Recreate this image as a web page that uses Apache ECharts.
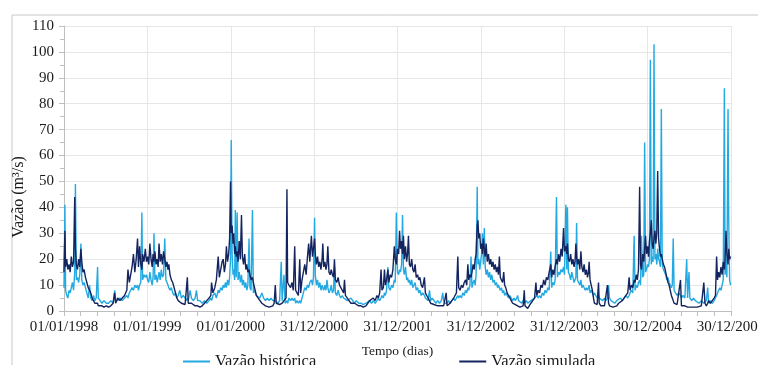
<!DOCTYPE html>
<html>
<head>
<meta charset="utf-8">
<script src="https://cdn.jsdelivr.net/npm/echarts@6/dist/echarts.min.js"></script>
<style>
html,body{margin:0;padding:0;background:#fff;}
#chart{width:758px;height:365px;}
</style>
</head>
<body>
<div id="chart"></div>
<script>
// Day offsets from 01/01/1998
const days = [
0,4,7,12,17,22,27,32,37,42,47,50,54,59,64,69,74,78,83,88,94,100,106,112,117,123,129,135,141,147,150,158,166,175,185,195,205,215,222,226,235,245,255,265,275,280,286,292,298,304,310,316,322,326,331,336,341,344,350,356,
361,366,371,376,381,386,390,394,398,403,408,412,416,421,426,431,436,441,446,451,455,459,464,470,476,482,488,494,500,507,514,522,530,537,540,544,552,558,566,574,580,585,595,605,615,625,635,643,646,652,660,667,675,680,686,692,697,702,707,711,716,721,725,729,732,
736,740,743,747,750,754,758,762,767,772,777,781,786,791,796,800,805,810,814,819,825,829,834,842,850,858,866,874,882,890,898,906,914,920,925,929,936,944,951,955,963,968,972,976,979,985,992,998,1004,1010,1014,1020,1026,1032,1036,1042,1048,1054,1060,1065,1071,1076,1083,1088,1092,1097,
1100,1105,1110,1115,1120,1125,1130,1133,1137,1142,1147,1151,1155,1160,1165,1170,1175,1180,1184,1188,1194,1200,1206,1212,1218,1224,1228,1232,1240,1248,1256,1264,1272,1280,1290,1300,1310,1316,1322,1330,1338,1346,1354,1362,1370,1376,1382,1388,1392,1398,1403,1407,1412,1418,1422,1428,1434,1440,1446,1450,1455,1460,
1465,1469,1473,1478,1482,1486,1490,1495,1500,1504,1508,1512,1517,1522,1527,1532,1537,1542,1548,1553,1558,1564,1570,1578,1582,1588,1594,1600,1605,1612,1620,1628,1636,1644,1652,1658,1662,1668,1673,1677,1684,1690,1698,1706,1712,1718,1724,1728,1734,1740,1746,1752,1758,1763,1768,1772,1777,1782,1786,1791,1796,1800,1804,1809,1812,1816,1820,1824,
1828,1832,1836,1840,1844,1848,1853,1858,1863,1868,1873,1878,1883,1888,1893,1898,1902,1906,1910,1915,1920,1925,1929,1934,1940,1946,1952,1958,1964,1970,1976,1982,1986,1990,1996,2004,2010,2015,2018,2024,2030,2037,2044,2052,2060,2066,2070,2076,2082,2088,2094,2100,2106,2112,2118,2124,2131,2135,2140,2145,2150,2156,2160,2165,2170,2176,2181,2187,2191,2197,2201,2204,2208,
2213,2218,2223,2228,2233,2237,2241,2244,2248,2253,2258,2263,2267,2272,2277,2282,2287,2292,2296,2299,2303,2308,2313,2318,2322,2328,2334,2340,2343,2350,2358,2366,2372,2379,2384,2388,2395,2403,2411,2420,2428,2436,2444,2452,2460,2468,2474,2478,2484,2490,2496,2500,2505,2510,2515,2520,2524,2528,2533,2538,2542,2546,2550,2555,
2559,2563,2567,2571,2575,2579,2583,2587,2591,2595,2599,2603,2607,2611,2615,2619,2624,2629,2634,2639,2644,2649,2654,2659,2663,2667,2671,2677,2684,2691,2699,2703,2710,2718,2726,2730,2736,2740,2748,2756,2764,2772,2780,2790,2801,2806,2812,2818,2822,2830,2838,2846,2852,2857,2861,2866,2871,2876,2881,2886,2891,2894,2898,2902,2907,2910,2914,2918
];

// Vazão histórica (m3/s)
const hist = [
9,41,8,6,5,8,7,9,11,8,15,49,12,13,11,14,26,12,10,11,9,7,5,10,5,4,6,4,5,17,5,4,3,4,3,3,4,3,8,4,4,5,4,5,6,5,7,8,9,8,10,9,10,8,10,11,38,12,14,13,
14,12,11,15,12,10,13,30,12,14,11,13,15,12,16,13,14,28,12,11,10,9,8,9,7,6,7,5,6,8,5,6,5,4,5,4,8,5,4,5,8,4,4,3,4,3,4,5,4,6,7,5,8,7,9,8,10,9,11,9,12,10,13,20,66,
22,14,16,12,39,13,38,12,15,11,14,10,12,9,11,8,10,28,9,8,39,7,8,6,6,5,7,5,4,5,4,5,4,4,4,4,3,4,19,4,14,3,3,4,3,5,4,5,4,5,3,4,3,4,3,5,7,9,8,10,9,11,12,10,13,36,
14,10,12,9,11,8,10,9,8,10,8,12,9,7,8,10,7,8,17,7,6,8,6,5,6,5,5,5,4,4,5,4,3,4,3,3,2.5,2,3,3,4,3,4,3,4,5,4,5,6,5,7,6,8,17,9,8,10,9,12,11,38,15,
14,16,15,18,37,16,14,17,12,13,11,12,10,12,9,10,11,8,9,7,8,6,7,6,5,5,4,8,4,5,4,3,4,3,4,7,4,3,3,3,4,3,4,5,4,5,6,5,6,5,7,6,8,7,9,8,10,21,9,11,12,10,14,48,18,20,16,19,
22,30,18,32,17,14,16,13,15,12,14,11,12,10,11,9,10,9,8,9,7,8,6,7,6,5,6,5,4,5,4,5,6,4,4,3,4,3,3,4,3,3,4,4,5,5,6,5,6,5,7,6,8,7,9,8,23,9,11,10,12,44,13,15,14,16,15,17,14,41,16,40,15,
14,12,15,13,11,12,13,34,12,11,10,12,9,10,9,8,9,8,9,10,7,8,7,6,7,6,5,6,5,5,4,5,4,5,10,5,4,4,3,4,4,5,4,5,6,5,6,7,8,7,29,8,10,9,11,12,10,29,13,14,65,15,16,18,
17,20,97,18,21,19,103,20,22,18,24,20,19,17,78,18,16,15,14,12,13,11,10,9,10,28,8,7,6,7,6,5,6,5,20,5,15,5,4,5,4,4,3,4,3,3,4,9,3,4,3,4,5,6,7,8,9,8,10,12,86,14,20,13,78,35,12,10
];

// Vazão simulada (m3/s)
const sim = [
15,31,17,20,16,18,15,21,17,19,44,24,18,16,20,17,24,19,15,16,13,11,9,8,7,5,4,3,3,3,2,2,2,1.5,2,1.5,2,3,7,3,5,4,5,6,8,16,11,14,17,22,15,20,28,17,25,18,16,22,19,24,
19,21,18,26,20,17,22,19,23,18,20,17,26,19,22,18,23,20,17,19,16,18,14,12,11,9,7,5,4,4,3,3,2.5,3,13,3,3,3,2.5,2,2,2,1.5,2,3,4,5,6,11,7,9,12,21,13,16,19,20,15,18,25,19,22,28,50,30,
33,26,30,22,25,21,23,19,27,20,37,21,18,22,16,18,15,16,14,12,13,11,9,6,5,4,3,2.5,2,2,1.5,2,2,3,10,3,3,2.5,3,3,4,4,5,47,11,10,9,11,8,25,8,7,6,20,7,12,15,18,14,20,26,19,29,21,24,28,
22,18,21,17,19,16,20,26,17,19,16,18,25,15,14,16,14,13,20,12,11,13,10,9,8,7,12,6,5,4,3,3,3,2.5,2,2,1.5,1.5,2,3,4,4,5,4,6,5,7,16,8,9,16,10,12,16,11,14,13,16,25,20,18,24,
22,31,24,27,22,29,20,25,19,22,29,18,17,20,16,15,18,13,14,12,13,10,9,13,7,6,5,4,3,3,2.5,2,2,2,2,2,2,2,7,2,2,3,4,5,6,7,21,9,8,10,9,11,12,10,18,12,14,13,15,18,16,20,22,33,35,28,30,24,
26,22,28,24,21,26,19,22,18,20,17,19,16,18,15,17,14,21,13,12,11,15,10,9,7,6,5,4,3,3,2.5,2,2,2,1.5,1.5,2,8,2,1.5,1,1,3,4,5,11,6,8,7,10,9,12,10,13,12,15,18,13,16,14,17,20,18,22,19,24,21,32,23,25,22,26,20,
19,22,18,20,17,19,26,21,18,20,16,23,17,15,18,14,16,13,15,19,12,10,8,5,3,3,2.5,11,3,2,2,2,2,10,3,2,2,1.5,1.5,2,3,3,4,5,6,7,13,8,10,9,12,11,14,12,16,48,18,16,22,19,24,29,22,25,
21,27,30,35,26,24,28,31,26,30,54,28,24,21,22,20,18,17,15,13,11,10,8,6,5,4,3,3,2.5,3,12,2,2,2,1.5,1.5,2,1.5,1.5,1.5,2,1.5,2,2,11,3,2,3,4,3,4,5,6,21,12,15,13,17,14,19,16,20,31,22,18,24,20,21
];

const tickLabels = ['01/01/1998','01/01/1999','01/01/2000','31/12/2000','31/12/2001','31/12/2002','31/12/2003','30/12/2004','30/12/2005'];

const serif = "'Liberation Serif', 'Times New Roman', serif";
const chart = echarts.init(document.getElementById('chart'), null, {renderer: 'canvas'});
chart.setOption({
  animation: false,
  backgroundColor: '#ffffff',
  textStyle: {fontFamily: serif},
  grid: {left: 64, right: 27, top: 26, bottom: 54, containLabel: false, outerBoundsMode: 'none'},
  legend: {
    left: 178, top: 348, itemGap: 143, itemWidth: 27, itemHeight: 14,
    icon: 'path://M0,6 L27,6 L27,8 L0,8 Z',
    textStyle: {fontFamily: serif, fontSize: 16.5, color: '#1a1a1a'},
    data: ['Vazão histórica', 'Vazão simulada']
  },
  xAxis: {
    type: 'value', min: 0, max: 2920, interval: 365,
    name: 'Tempo (dias)', nameLocation: 'middle', nameGap: 33,
    nameTextStyle: {fontFamily: serif, fontSize: 13.5, color: '#1a1a1a'},
    axisLine: {show: true, lineStyle: {color: '#bfbfbf', width: 1}},
    axisTick: {show: true, length: 5, lineStyle: {color: '#bfbfbf'}},
    minorTick: {show: true, splitNumber: 5, length: 5, lineStyle: {color: '#bfbfbf'}},
    axisLabel: {fontFamily: serif, fontSize: 15, color: '#1a1a1a', margin: 9, showMaxLabel: true,
      formatter: function (v) { return tickLabels[Math.round(v / 365)] || ''; }},
    splitLine: {show: true, lineStyle: {color: '#e6e6e6', width: 1}}
  },
  yAxis: {
    type: 'value', min: 0, max: 110, interval: 10,
    axisLine: {show: true, lineStyle: {color: '#bfbfbf', width: 1}},
    axisTick: {show: true, length: 5, lineStyle: {color: '#bfbfbf'}},
    minorTick: {show: true, splitNumber: 2, length: 4, lineStyle: {color: '#bfbfbf'}},
    axisLabel: {fontFamily: serif, fontSize: 15, color: '#1a1a1a', margin: 10},
    splitLine: {show: true, lineStyle: {color: '#e6e6e6', width: 1}}
  },
  graphic: [
    {type: 'rect', left: 9.5, top: 12.5, shape: {width: 747, height: 400}, style: {fill: 'none', stroke: '#c8c8c8', lineWidth: 1}, silent: true},
    {type: 'text', x: 19, y: 197, rotation: Math.PI / 2,
      style: {text: 'Vazão (m³/s)', fontFamily: serif, fontSize: 16, fill: '#1a1a1a', textAlign: 'center', textVerticalAlign: 'middle'}}
  ],
  series: [
    {name: 'Vazão histórica', type: 'line', showSymbol: false, symbol: 'none',
      lineStyle: {color: '#22a9e1', width: 1.4}, itemStyle: {color: '#22a9e1'},
      data: days.map((d, i) => [d, hist[i]])},
    {name: 'Vazão simulada', type: 'line', showSymbol: false, symbol: 'none',
      lineStyle: {color: '#14245e', width: 1.4}, itemStyle: {color: '#14245e'},
      data: days.map((d, i) => [d, sim[i]])}
  ]
});
</script>
</body>
</html>
